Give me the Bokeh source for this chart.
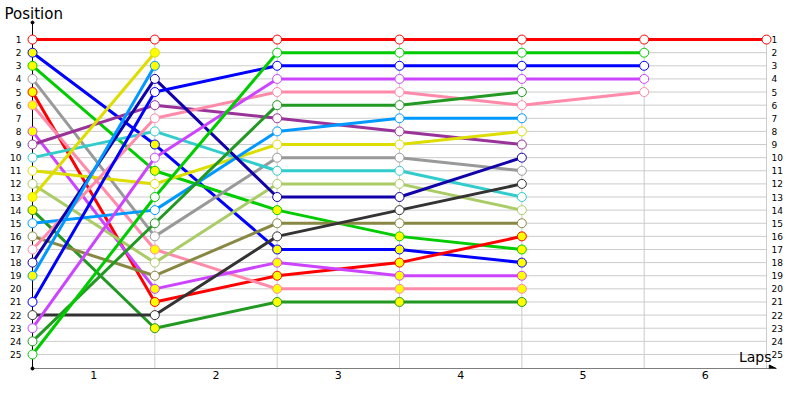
from bokeh.plotting import figure
from bokeh.models import Range1d, FixedTicker, Label, Arrow, NormalHead
from bokeh.core.properties import value
from bokeh.embed import file_html
from bokeh.resources import INLINE

# ---------------- data ----------------
laps = [0, 1, 2, 3, 4, 5, 6]
lap_labels = ["1", "2", "3", "4", "5", "6"]
positions = list(range(1, 26))

# positions per lap (lap 0 = grid); a shorter list = retired
red_a = [1, 1, 1, 1, 1, 1, 1]
blue_a = [2, 9, 17, 17, 18]
lime_a = [3, 11, 14, 16, 17]
gray_a = [4, 16, 10, 10, 11]
red_b = [5, 21, 19, 18, 16]
pink_a = [6, 17, 20, 20, 20]
violet_a = [8, 20, 18, 19, 19]
purple_a = [9, 6, 7, 8, 9]
cyan_a = [10, 8, 11, 11, 13]
yellow_a = [11, 12, 9, 9, 8]
lightgreen_a = [12, 18, 12, 12, 14]
yellow_b = [13, 2]
darkgreen_a = [14, 23, 21, 21, 21]
lightblue_a = [15, 14, 8, 7, 7]
olive_a = [16, 19, 15, 15, 15]
pink_b = [17, 7, 5, 5, 6, 5]
navy_a = [18, 4, 13, 13, 10]
lightblue_b = [19, 3]
blue_b = [21, 5, 3, 3, 3, 3]
darkgray_a = [22, 22, 16, 14, 12]
violet_b = [23, 10, 4, 4, 4, 4]
darkgreen_b = [24, 15, 6, 6, 5]
lime_b = [25, 13, 2, 2, 2, 2]

WHITE = "#ffffff"
YELLOW = "#ffff00"
series = [
    (red_a, "#ff0000", WHITE),
    (blue_a, "#0000ff", YELLOW),
    (lime_a, "#00cc00", YELLOW),
    (gray_a, "#999999", WHITE),
    (red_b, "#ff0000", YELLOW),
    (pink_a, "#ff8aaa", YELLOW),
    (violet_a, "#cc44ff", YELLOW),
    (purple_a, "#993399", WHITE),
    (cyan_a, "#33cccc", WHITE),
    (yellow_a, "#dddd00", WHITE),
    (lightgreen_a, "#aacc66", WHITE),
    (yellow_b, "#dddd00", YELLOW),
    (darkgreen_a, "#229922", YELLOW),
    (lightblue_a, "#0099ff", WHITE),
    (olive_a, "#888844", WHITE),
    (pink_b, "#ff8aaa", WHITE),
    (navy_a, "#1100aa", WHITE),
    (lightblue_b, "#0099ff", YELLOW),
    (blue_b, "#0000ff", WHITE),
    (darkgray_a, "#333333", WHITE),
    (violet_b, "#cc44ff", WHITE),
    (darkgreen_b, "#229922", WHITE),
    (lime_b, "#00cc00", WHITE),
]

# ---------------- figure ----------------
Y_TOP = -0.30
Y_BOTTOM = 26.07
X_END = 6.147
FONT = "DejaVu Sans"
GRID = "#cccccc"

p = figure(width=784, height=384, output_backend="svg", toolbar_location=None,
           x_range=Range1d(laps[0], X_END), y_range=Range1d(Y_BOTTOM, Y_TOP),
           min_border_left=32, min_border_right=0, min_border_top=22, min_border_bottom=16)
p.outline_line_color = None
p.background_fill_color = "white"
p.border_fill_color = "white"

# title "Position" at the top-left
p.title.text = "Position"
p.title.align = "left"
p.title.offset = -28
p.title.standoff = 0
p.title.text_font = FONT
p.title.text_font_size = "15px"
p.title.text_font_style = "normal"
p.title.text_color = "black"

# left axis
p.yaxis.ticker = FixedTicker(ticks=positions)
p.yaxis.major_tick_out = 0
p.yaxis.major_tick_in = 0
p.yaxis.minor_tick_line_color = None
p.yaxis.axis_line_color = "black"
p.yaxis.major_label_standoff = 11
p.yaxis.major_label_text_font = FONT
p.yaxis.major_label_text_font_size = "9px"
p.yaxis.major_label_text_color = "black"

# bottom axis: lap labels centred between gridlines
mid = [l + 0.5 for l in laps[:-1]]
p.xaxis.ticker = FixedTicker(ticks=mid)
p.xaxis.major_label_overrides = {m: t for m, t in zip(mid, lap_labels)}
p.xaxis.major_tick_out = 0
p.xaxis.major_tick_in = 0
p.xaxis.minor_tick_line_color = None
p.xaxis.axis_line_color = None
p.xaxis.major_label_standoff = 2
p.xaxis.major_label_text_font = FONT
p.xaxis.major_label_text_font_size = "11px"
p.xaxis.major_label_text_color = "black"

# grids
p.xgrid.visible = False
p.ygrid.visible = False
n = len(positions)
p.segment(x0=[laps[0]] * n, y0=positions, x1=[laps[-1]] * n, y1=positions,
          line_color=GRID, line_width=1, level="underlay")
p.segment(x0=laps[1:], y0=[positions[0]] * (len(laps) - 1), x1=laps[1:],
          y1=[Y_BOTTOM] * (len(laps) - 1), line_color=GRID, line_width=1, level="underlay")

# right-hand position labels
p.text(x=[laps[-1]] * n, y=positions, text=[str(v) for v in positions],
       x_offset=5, text_align="left", text_baseline="middle",
       text_font=value(FONT), text_font_size="9px", text_color="black")

# bottom axis arrow
p.add_layout(Arrow(x_start=laps[0], y_start=Y_BOTTOM, x_end=laps[-1] + 0.08, y_end=Y_BOTTOM,
                   line_color="black", line_width=1,
                   end=NormalHead(size=7, fill_color="black", line_color="black")))
p.scatter([laps[0], laps[0]], [Y_TOP, Y_BOTTOM], size=3, color="black", level="overlay")

# data
for pos, color, fill in series:
    xs = laps[:len(pos)]
    p.line(xs, pos, line_color=color, line_width=3, level="overlay")
for pos, color, fill in series:
    xs = laps[:len(pos)]
    p.scatter(xs, pos, size=9, marker="circle", line_color=color, line_width=1,
              fill_color=fill, level="overlay")

p.add_layout(Label(x=laps[-1], y=Y_BOTTOM, x_offset=5, y_offset=12, text="Laps",
                   text_font=FONT, text_font_size="14px", text_color="black",
                   text_baseline="middle", text_align="right"))

open("out.html", "w").write(file_html(p, INLINE))
